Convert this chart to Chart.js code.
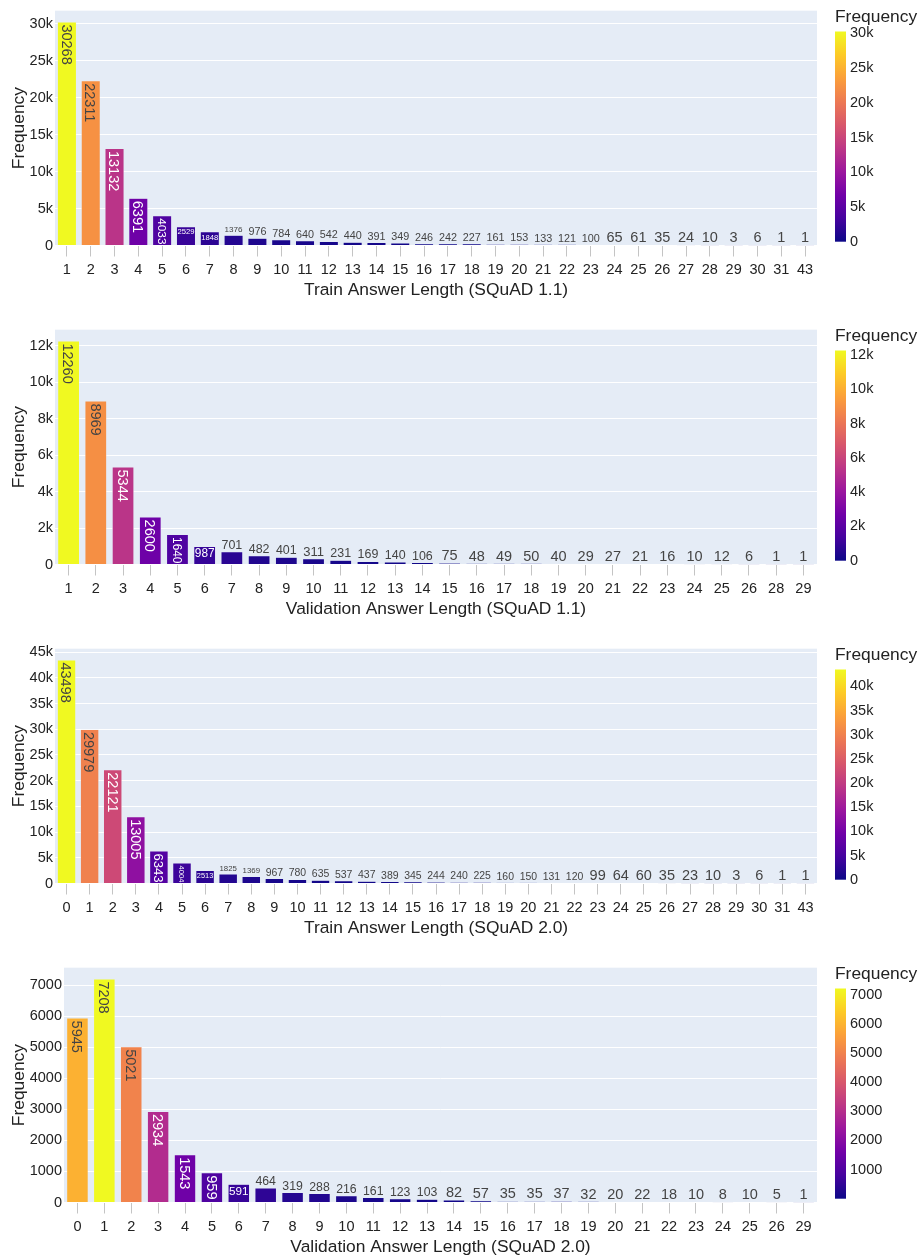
<!DOCTYPE html>
<html>
<head>
<meta charset="utf-8">
<script src="https://cdn.jsdelivr.net/npm/chart.js@4.4.0/dist/chart.umd.min.js"></script>
<style>
  html, body { margin: 0; padding: 0; background: #fff; }
  canvas { position: absolute; left: 0; }
</style>
</head>
<body>
<canvas id="c1" width="920" height="303" style="top:0px"></canvas>
<canvas id="c2" width="920" height="303" style="top:319px"></canvas>
<canvas id="c3" width="920" height="303" style="top:638px"></canvas>
<canvas id="c4" width="920" height="303" style="top:957px"></canvas>
<script>
// ---- data ----
const train11Lengths = ['1','2','3','4','5','6','7','8','9','10','11','12','13','14','15','16','17','18','19','20','21','22','23','24','25','26','27','28','29','30','31','43']
const train11Counts = [30268, 22311, 13132, 6391, 4033, 2529, 1848, 1376, 976, 784, 640, 542, 440, 391, 349, 246, 242, 227, 161, 153, 133, 121, 100, 65, 61, 35, 24, 10, 3, 6, 1, 1]

const val11Lengths = ['1','2','3','4','5','6','7','8','9','10','11','12','13','14','15','16','17','18','19','20','21','22','23','24','25','26','28','29']
const val11Counts = [12260, 8969, 5344, 2600, 1640, 987, 701, 482, 401, 311, 231, 169, 140, 106, 75, 48, 49, 50, 40, 29, 27, 21, 16, 10, 12, 6, 1, 1]

const train20Lengths = ['0','1','2','3','4','5','6','7','8','9','10','11','12','13','14','15','16','17','18','19','20','21','22','23','24','25','26','27','28','29','30','31','43']
const train20Counts = [43498, 29979, 22121, 13005, 6343, 4004, 2513, 1825, 1369, 967, 780, 635, 537, 437, 389, 345, 244, 240, 225, 160, 150, 131, 120, 99, 64, 60, 35, 23, 10, 3, 6, 1, 1]

const val20Lengths = ['0','1','2','3','4','5','6','7','8','9','10','11','12','13','14','15','16','17','18','19','20','21','22','23','24','25','26','29']
const val20Counts = [5945, 7208, 5021, 2934, 1543, 959, 591, 464, 319, 288, 216, 161, 123, 103, 82, 57, 35, 35, 37, 32, 20, 22, 18, 10, 8, 10, 5, 1]

const yTicks1 = [0, 5000, 10000, 15000, 20000, 25000, 30000]
const yLabels1 = ['0', '5k', '10k', '15k', '20k', '25k', '30k']
const yTicks2 = [0, 2000, 4000, 6000, 8000, 10000, 12000]
const yLabels2 = ['0', '2k', '4k', '6k', '8k', '10k', '12k']
const yTicks3 = [0, 5000, 10000, 15000, 20000, 25000, 30000, 35000, 40000, 45000]
const yLabels3 = ['0', '5k', '10k', '15k', '20k', '25k', '30k', '35k', '40k', '45k']
const yTicks4 = [0, 1000, 2000, 3000, 4000, 5000, 6000, 7000]
const yLabels4 = ['0', '1000', '2000', '3000', '4000', '5000', '6000', '7000']

const cbTicks1 = yTicks1, cbLabels1 = yLabels1
const cbTicks2 = yTicks2, cbLabels2 = yLabels2
const cbTicks3 = [0, 5000, 10000, 15000, 20000, 25000, 30000, 35000, 40000]
const cbLabels3 = ['0', '5k', '10k', '15k', '20k', '25k', '30k', '35k', '40k']
const cbTicks4 = [1000, 2000, 3000, 4000, 5000, 6000, 7000]
const cbLabels4 = ['1000', '2000', '3000', '4000', '5000', '6000', '7000']

// ---- style ----
const FONT = '"Liberation Sans", Arial, sans-serif'
const TEXT = '#222'
const TICK_SIZE = 14.5
const TITLE_SIZE = 17.4
const LABEL_SIZE = 14.5
const PLASMA = ['#0d0887', '#46039f', '#7201a8', '#9c179e', '#bd3786', '#d8576b', '#ed7953', '#fb9f3a', '#fdca26', '#f0f921']

Chart.defaults.font.family = FONT

function hexRgb(h) {
  return [parseInt(h.slice(1, 3), 16), parseInt(h.slice(3, 5), 16), parseInt(h.slice(5, 7), 16)]
}

function plasmaRgb(t) {
  t = Math.max(0, Math.min(1, t))
  const n = PLASMA.length - 1
  const k = Math.min(n - 1, Math.floor(t * n))
  const f = t * n - k
  const a = hexRgb(PLASMA[k]), b = hexRgb(PLASMA[k + 1])
  return a.map((v, i) => Math.round(v + (b[i] - v) * f))
}

function colorsFor(counts) {
  const lo = Math.min(...counts), hi = Math.max(...counts)
  return counts.map(v => {
    const c = plasmaRgb((v - lo) / (hi - lo))
    return `rgb(${c[0]},${c[1]},${c[2]})`
  })
}

// plot background
const plotBg = {
  id: 'plotBg',
  beforeDraw(chart) {
    const { ctx, chartArea: a } = chart
    ctx.save()
    ctx.fillStyle = '#E5ECF6'
    ctx.fillRect(a.left, a.top, a.right - a.left, a.bottom - a.top)
    ctx.restore()
  }
}

// value labels, inside (maybe rotated) or above the bar
const barText = {
  id: 'barText',
  afterDatasetsDraw(chart) {
    const ctx = chart.ctx
    const ds = chart.data.datasets[0]
    const lo = Math.min(...ds.data), hi = Math.max(...ds.data)
    chart.getDatasetMeta(0).data.forEach((bar, i) => {
      const v = ds.data[i]
      const txt = String(v)
      const w = bar.width, h = bar.base - bar.y
      ctx.save()
      ctx.font = LABEL_SIZE + 'px ' + FONT
      const tw = ctx.measureText(txt).width, th = LABEL_SIZE
      const lx = w - 2, ly = h - 4
      let mode, scale
      if (w < h && tw > lx) {
        mode = 'rot'
        scale = Math.min(1, (h - 3) / tw, lx / th)
      } else if (tw <= lx && th <= ly) {
        mode = 'in'
        scale = 1
      } else if (ly >= th * (lx / tw)) {
        mode = 'in'
        scale = Math.min(1, lx / tw, ly / th)
      } else {
        mode = 'out'
        scale = Math.min(1, (w - 1) / tw)
      }
      const fs = LABEL_SIZE * scale
      ctx.font = fs + 'px ' + FONT
      if (mode === 'out') {
        ctx.fillStyle = '#444'
        ctx.textAlign = 'center'
        ctx.textBaseline = 'alphabetic'
        ctx.fillText(txt, bar.x, bar.y - 3)
      } else {
        const c = plasmaRgb((v - lo) / (hi - lo))
        const bright = (c[0] * 299 + c[1] * 587 + c[2] * 114) / 1000
        ctx.fillStyle = bright < 128 ? '#fff' : '#444'
        if (mode === 'rot') {
          ctx.translate(bar.x, bar.y + 2.5)
          ctx.rotate(Math.PI / 2)
          ctx.textAlign = 'left'
          ctx.textBaseline = 'alphabetic'
          ctx.fillText(txt, 0, 0.36 * fs)
        } else {
          ctx.textAlign = 'center'
          ctx.textBaseline = 'alphabetic'
          ctx.fillText(txt, bar.x, bar.y + 2 + 0.74 * fs)
        }
      }
      ctx.restore()
    })
  }
}

// plasma colour bar at the right
const colorBar = {
  id: 'colorBar',
  afterDraw(chart, args, opts) {
    const ctx = chart.ctx
    const x0 = 835, x1 = 846, top = 31.5, bottom = 241.7
    ctx.save()
    const g = ctx.createLinearGradient(0, bottom, 0, top)
    PLASMA.forEach((c, i) => g.addColorStop(i / (PLASMA.length - 1), c))
    ctx.fillStyle = g
    ctx.fillRect(x0, top, x1 - x0, bottom - top)
    ctx.fillStyle = TEXT
    ctx.textAlign = 'left'
    ctx.textBaseline = 'middle'
    ctx.font = TICK_SIZE + 'px ' + FONT
    opts.ticks.forEach((v, i) => {
      const y = bottom - (v - opts.min) / (opts.max - opts.min) * (bottom - top)
      ctx.fillText(opts.labels[i], 850, y)
    })
    ctx.font = TITLE_SIZE + 'px ' + FONT
    ctx.fillText('Frequency', 835, 17.5)
    ctx.restore()
  }
}

function makeChart(id, labels, counts, xTitle, yTicks, yLabels, cbTicks, cbLabels, yWidth) {
  new Chart(document.getElementById(id), {
    type: 'bar',
    data: {
      labels: labels,
      datasets: [{
        data: counts,
        backgroundColor: colorsFor(counts),
        borderColor: '#E5ECF6',
        borderWidth: 0.5,
        categoryPercentage: 1,
        barPercentage: 0.8
      }]
    },
    plugins: [plotBg, barText, colorBar],
    options: {
      responsive: false,
      animation: false,
      layout: { padding: { top: 6, right: 103, left: 0, bottom: 0 } },
      plugins: {
        legend: { display: false },
        tooltip: { enabled: false },
        colorBar: {
          ticks: cbTicks,
          labels: cbLabels,
          min: Math.min(...counts),
          max: Math.max(...counts)
        }
      },
      scales: {
        x: {
          grid: { drawOnChartArea: false, drawTicks: true, tickLength: 11, tickColor: '#c4c4c4', offset: false },
          border: { display: false },
          ticks: { color: TEXT, font: { size: TICK_SIZE }, padding: 5, autoSkip: false, maxRotation: 0 },
          title: { display: true, text: xTitle, color: TEXT, font: { size: TITLE_SIZE }, padding: { top: 0, bottom: 2.5 } },
          afterFit(scale) { scale.height = 57.5 }
        },
        y: {
          min: 0,
          max: Math.max(...counts) * 1.05,
          afterBuildTicks(scale) { scale.ticks = yTicks.map(v => ({ value: v })) },
          grid: { color: '#ffffff', lineWidth: 1, drawTicks: false },
          border: { display: false },
          ticks: {
            color: TEXT,
            font: { size: TICK_SIZE },
            padding: 2,
            callback: v => yLabels[yTicks.indexOf(v)]
          },
          title: { display: true, text: 'Frequency', color: TEXT, font: { size: TITLE_SIZE }, padding: { top: 9, bottom: 0 } },
          afterFit(scale) { scale.width = yWidth }
        }
      }
    }
  })
}

makeChart('c1', train11Lengths, train11Counts, 'Train Answer Length (SQuAD 1.1)', yTicks1, yLabels1, cbTicks1, cbLabels1, 55)
makeChart('c2', val11Lengths, val11Counts, 'Validation Answer Length (SQuAD 1.1)', yTicks2, yLabels2, cbTicks2, cbLabels2, 55)
makeChart('c3', train20Lengths, train20Counts, 'Train Answer Length (SQuAD 2.0)', yTicks3, yLabels3, cbTicks3, cbLabels3, 55)
makeChart('c4', val20Lengths, val20Counts, 'Validation Answer Length (SQuAD 2.0)', yTicks4, yLabels4, cbTicks4, cbLabels4, 64)
</script>
</body>
</html>
